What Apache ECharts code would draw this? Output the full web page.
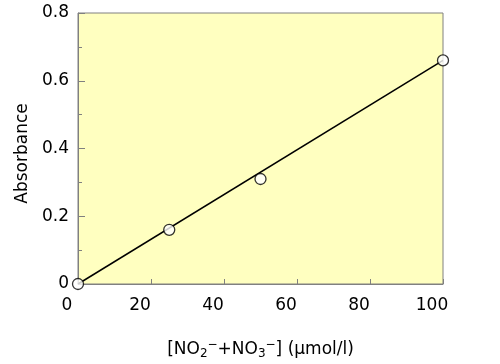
<!DOCTYPE html>
<html><head><meta charset="utf-8">
<script src="https://cdn.jsdelivr.net/npm/echarts@6/dist/echarts.min.js"></script>
<style>html,body{margin:0;padding:0;background:#fff}#c{width:500px;height:364px}</style>
</head><body><div id="c"></div>
<script>
const concX = [0, 25, 50, 100];
const absY = [0, 0.16, 0.31, 0.66];
const fitX = [0, 100];
const fitY = [0, 0.66];
const xTicks = [0, 20, 40, 60, 80, 100];
const yTicks = [0, 0.2, 0.4, 0.6, 0.8];

const font = 'DejaVu Sans, sans-serif';
const chart = echarts.init(document.getElementById('c'), null, {renderer: 'canvas'});
chart.setOption({
  animation: false,
  grid: {left: 78, right: 57, top: 13, bottom: 80, show: true, containLabel: false,
         outerBoundsMode: 'none',
         backgroundColor: '#ffffc0', borderColor: '#808080', borderWidth: 1},
  xAxis: {
    type: 'value', min: xTicks[0], max: xTicks[xTicks.length-1], interval: 20,
    axisLine: {show: true, lineStyle: {color: '#808080', width: 1}},
    axisTick: {show: true, inside: true, length: 5, lineStyle: {color: '#808080'}},
    splitLine: {show: false},
    axisLabel: {color: '#000', fontFamily: font, fontSize: 17, margin: 13, padding: [0, 22, 0, 0]},
    name: '[NO{s|2}{p|−}+NO{s|3}{p|−}] (µmol/l)',
    nameLocation: 'middle', nameGap: 55,
    nameTextStyle: {color: '#000', fontFamily: font, fontSize: 17,
      rich: {
        s: {fontFamily: font, fontSize: 12, color: '#000', padding: [9, 0, 0, 0]},
        p: {fontFamily: font, fontSize: 12, color: '#000', padding: [0, 0, 9, 0]}
      }}
  },
  yAxis: {
    type: 'value', min: yTicks[0], max: yTicks[yTicks.length-1], interval: 0.2,
    axisLine: {show: true, lineStyle: {color: '#808080', width: 1}},
    axisTick: {show: true, inside: true, length: 7, lineStyle: {color: '#808080'}},
    minorTick: {show: true, splitNumber: 2, length: 4, lineStyle: {color: '#808080'}},
    splitLine: {show: false},
    axisLabel: {color: '#000', fontFamily: font, fontSize: 17, margin: 9,
      formatter: v => (v === 0 ? '0' : v.toFixed(1))},
    name: 'Absorbance', nameLocation: 'middle', nameGap: 47,
    nameTextStyle: {color: '#000', fontFamily: font, fontSize: 17, padding: [0, 10, 0, 0]}
  },
  series: [
    {type: 'line', data: fitX.map((x, i) => [x, fitY[i]]), symbol: 'none',
     lineStyle: {color: '#000', width: 1.5}, z: 2},
    {type: 'scatter', data: concX.map((x, i) => [x, absY[i]]), symbol: 'circle', symbolSize: 11,
     itemStyle: {color: '#fff', borderColor: '#000', borderWidth: 1.3}, z: 3}
  ]
});
</script></body></html>
